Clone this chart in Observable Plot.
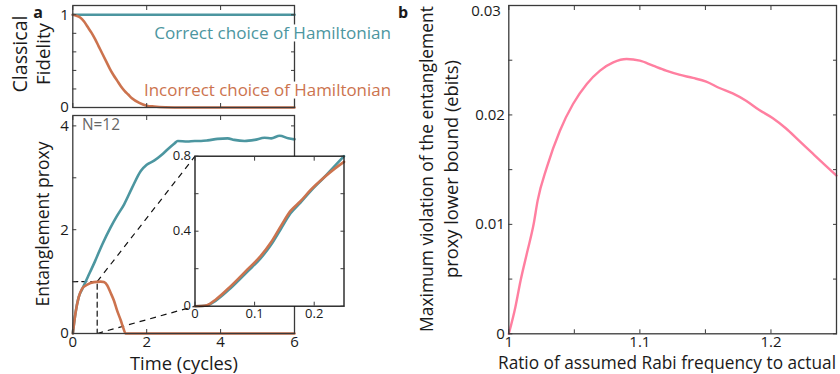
<!DOCTYPE html>
<html><head><meta charset="utf-8">
<script src="https://cdn.jsdelivr.net/npm/d3@7"></script>
<script src="https://cdn.jsdelivr.net/npm/@observablehq/plot@0.6"></script>
<style>
body{margin:0;background:#fff;}
#chart{position:relative;width:840px;height:374px;font-family:"Open Sans",sans-serif;overflow:hidden;background:#fff}
#chart svg{position:absolute;left:0;top:0}
.lbl{position:absolute;white-space:nowrap;transform:translate(-50%,-50%);color:#1a1a1a;line-height:1}
.rot{transform:translate(-50%,-50%) rotate(-90deg)}
</style></head><body><div id="chart"></div>
<script>
// ---------- data ----------
// Panel a (top): classical fidelity
const fidCorrectT = [0, 6];
const fidCorrect = [1, 1];
const fidIncorrectT = [0,0.1,0.2,0.3,0.4,0.5,0.6,0.7,0.8,0.9,1.0,1.1,1.2,1.3,1.4,1.5,1.6,1.8,2.0,2.2,2.5,3,4,5,6];
const fidIncorrect = [1,0.99,0.97,0.93,0.87,0.81,0.74,0.66,0.58,0.50,0.42,0.35,0.29,0.23,0.18,0.14,0.10,0.05,0.02,0.01,0.003,0,0,0,0];
// Panel a (bottom): entanglement proxy, N=12
const entCorrectT = [0,0.07,0.16,0.25,0.4,0.6,0.8,1.02,1.2,1.39,1.6,1.84,2.0,2.2,2.4,2.57,2.75,2.84,3.1,3.3,3.47,3.65,3.92,4.19,4.37,4.65,4.92,5.19,5.37,5.6,5.83,6.0];
const entCorrect = [0,0.38,0.70,0.85,1.08,1.39,1.72,2.04,2.27,2.49,2.80,3.13,3.25,3.33,3.44,3.55,3.66,3.71,3.70,3.71,3.71,3.72,3.75,3.76,3.73,3.71,3.73,3.77,3.76,3.81,3.76,3.74];
const entIncorrectT = [0,0.07,0.16,0.25,0.39,0.57,0.75,0.84,0.93,1.02,1.11,1.2,1.3,1.36,1.43,2,3,4,5,6];
const entIncorrect = [0,0.38,0.70,0.86,0.94,0.99,1.0,0.99,0.93,0.79,0.64,0.44,0.25,0.12,0,0,0,0,0,0];
// zoom box corner (time, proxy)
const zoomT = 0.66, zoomE = 1;
// inset
const insetT = [0,0.01,0.02,0.035,0.06,0.088,0.11,0.127,0.144,0.16,0.177,0.194,0.216,0.235,0.25];
const insetIncorrect = [0,0.001,0.005,0.036,0.107,0.196,0.267,0.338,0.427,0.507,0.56,0.62,0.685,0.735,0.77];
const insetCorrect = [0,0.001,0.004,0.03,0.097,0.185,0.255,0.325,0.412,0.494,0.553,0.614,0.685,0.75,0.80];
// Panel b
const ratio = [1,1.005,1.009,1.014,1.019,1.022,1.029,1.039,1.049,1.0595,1.0696,1.0797,1.0899,1.1,1.11,1.12,1.13,1.1405,1.1506,1.1607,1.1708,1.181,1.1911,1.2012,1.2113,1.2214,1.2316,1.2417,1.25];
const violation = [0,0.00243,0.00487,0.00745,0.01005,0.01217,0.01521,0.01856,0.0210,0.02283,0.02405,0.0248,0.02511,0.02496,0.0245,0.02405,0.02368,0.02338,0.02304,0.02246,0.02197,0.0213,0.02045,0.01972,0.01878,0.01765,0.0165,0.01537,0.01446];
// ticks
const aTimeTicks = [0,2,4,6], aTimeLabels = [0,2,4,6];
const fidTicks = [0,0.2,0.4,0.6,0.8,1], fidLabels = [0,1];
const entTicks = [0,1,2,3,4], entLabels = [0,2,4];
const inXTicks = [0,0.1,0.2], inXLabels = [0,0.1,0.2];
const inYTicks = [0,0.2,0.4,0.6,0.8], inYLabels = [0,0.4,0.8];
const bXTicks = [1,1.05,1.1,1.15,1.2], bXLabels = [1,1.1,1.2];
const bYTicks = [0,0.005,0.01,0.015,0.02,0.025,0.03], bYLabels = [0,0.01,0.02], bYTopLabel = [0.03];

const TEAL = "#4c96a0", ORANGE = "#cc734e", PINK = "#ff7fa0", FRAME = "#3a3a3a";
const W = 840, H = 374;
const zip = (xs, ys) => xs.map((x, i) => ({x, y: ys[i]}));

// layout boxes (pixels)
const boxTop = {l:72.3, r:294, t:5, b:107};
const boxEnt = {l:72.3, r:294, t:115, b:333};
const boxIn = {l:194.5, r:343.5, t:155.7, b:305.7};
const boxB = {l:508.3, r:836, t:5, b:333.3};

const fmt = (L) => (d) => L.includes(d) ? String(d) : "";
const none = () => "";
function axes(xT, xL, yT, yL, fs, showX = true) {
  const common = {tickSize:-4, label:null, stroke:FRAME, fill:"#1a1a1a", fontSize:fs};
  return [
    Plot.axisX({...common, anchor:"bottom", ticks:xT, tickPadding:7, tickFormat: showX ? fmt(xL) : none}),
    Plot.axisX({...common, anchor:"top", ticks:xT, tickFormat:none}),
    Plot.axisY({...common, anchor:"left", ticks:yT, tickPadding:8, tickFormat:fmt(yL)}),
    Plot.axisY({...common, anchor:"right", ticks:yT, tickFormat:none})
  ];
}
function panel(box, xd, yd, marks) {
  return Plot.plot({
    width: W, height: H,
    marginLeft: box.l, marginRight: W - box.r, marginTop: box.t, marginBottom: H - box.b,
    x: {domain: xd}, y: {domain: yd},
    style: {background: "transparent", overflow: "visible", fontFamily: '"Open Sans", sans-serif', color: "#1a1a1a"},
    marks
  });
}
const chart = document.getElementById("chart");

// Top panel a
chart.append(panel(boxTop, [0,6], [0,1.1], [
  Plot.line(zip(fidCorrectT, fidCorrect), {x:"x", y:"y", stroke:TEAL, strokeWidth:2.6}),
  Plot.line(zip(fidIncorrectT, fidIncorrect), {x:"x", y:"y", stroke:ORANGE, strokeWidth:2.6, curve:"monotone-x"}),
  Plot.frame({stroke:FRAME, strokeWidth:1.3}),
  ...axes(aTimeTicks, aTimeLabels, fidTicks, fidLabels, 15, false)
]));

// Bottom panel a
const sx = d3.scaleLinear([0,6], [boxEnt.l, boxEnt.r]);
const sy = d3.scaleLinear([0,4.2], [boxEnt.b, boxEnt.t]);
const connectors = [
  {x1: zoomT, y1: zoomE, x2: sx.invert(boxIn.l), y2: sy.invert(boxIn.t)},
  {x1: zoomT, y1: 0, x2: sx.invert(boxIn.l), y2: sy.invert(boxIn.b)}
];
chart.append(panel(boxEnt, [0,6], [0,4.2], [
  Plot.line([{x:0,y:zoomE},{x:zoomT,y:zoomE},{x:zoomT,y:0}], {x:"x", y:"y", stroke:"#111", strokeWidth:1.2, strokeDasharray:"5,4"}),
  Plot.link(connectors, {x1:"x1", y1:"y1", x2:"x2", y2:"y2", stroke:"#111", strokeWidth:1.2, strokeDasharray:"6,5"}),
  Plot.line(zip(entCorrectT, entCorrect), {x:"x", y:"y", stroke:TEAL, strokeWidth:2.6, curve:"monotone-x"}),
  Plot.line(zip(entIncorrectT, entIncorrect), {x:"x", y:"y", stroke:ORANGE, strokeWidth:2.6, curve:"monotone-x"}),
  Plot.frame({stroke:FRAME, strokeWidth:1.3}),
  ...axes(aTimeTicks, aTimeLabels, entTicks, entLabels, 15)
]));

// Inset
chart.append(panel(boxIn, [0,0.25], [0,0.8], [
  Plot.frame({fill:"white"}),
  Plot.line(zip(insetT, insetCorrect), {x:"x", y:"y", stroke:TEAL, strokeWidth:2.6, curve:"monotone-x"}),
  Plot.line(zip(insetT, insetIncorrect), {x:"x", y:"y", stroke:ORANGE, strokeWidth:2.6, curve:"monotone-x"}),
  Plot.frame({stroke:"#111", strokeWidth:1.3}),
  ...axes(inXTicks, inXLabels, inYTicks, inYLabels, 13)
]));

// Panel b
chart.append(panel(boxB, [1,1.25], [0,0.03], [
  Plot.line(zip(ratio, violation), {x:"x", y:"y", stroke:PINK, strokeWidth:2.4, curve:"monotone-x"}),
  Plot.frame({stroke:FRAME, strokeWidth:1.3}),
  ...axes(bXTicks, bXLabels, bYTicks, bYLabels, 15),
  Plot.axisY({anchor:"left", ticks:bYTopLabel, tickSize:0, tickPadding:8, label:null, fill:"#1a1a1a", fontSize:15, dy:6, tickFormat:fmt(bYTopLabel)})
]));

// Text labels (font size fitted to the width measured on the reference)
function label(text, x, y, opts = {}) {
  const d = document.createElement("div");
  d.className = "lbl" + (opts.rot ? " rot" : "");
  d.textContent = text;
  d.style.left = x + "px"; d.style.top = y + "px";
  const size = opts.size || 16;
  d.style.fontSize = size + "px";
  if (opts.color) d.style.color = opts.color;
  if (opts.bold) d.style.fontWeight = "bold";
  if (opts.bg) { d.style.background = "#fff"; }
  if (opts.anchor === "end") d.style.transform = "translate(-100%,-50%)";
  if (opts.anchor === "start") d.style.transform = "translate(0,-50%)";
  chart.append(d);
  if (opts.w) {
    const w = d.getBoundingClientRect()[opts.rot ? "height" : "width"];
    d.style.fontSize = (size * opts.w / w).toFixed(2) + "px";
  }
}
label("a", 38, 12, {bold:true, size:16});
label("b", 403, 12, {bold:true, size:16});
label("Classical", 20, 54, {rot:true, size:17, w:77});
label("Fidelity", 43, 54, {rot:true, size:17, w:62});
label("Correct choice of Hamiltonian", 391, 33, {anchor:"end", size:17, w:237, color:TEAL, bg:true});
label("Incorrect choice of Hamiltonian", 391, 90, {anchor:"end", size:17, w:247, color:ORANGE, bg:true});
label("N=12", 82, 125, {anchor:"start", size:14, w:38, color:"#666"});
label("Entanglement proxy", 43, 224, {rot:true, size:17.5, w:165});
label("Time (cycles)", 184, 363, {size:18, w:108});
label("Maximum violation of the entanglement", 427, 169, {rot:true, size:16, w:326});
label("proxy lower bound (ebits)", 451, 169, {rot:true, size:16, w:218});
label("Ratio of assumed Rabi frequency to actual", 667, 363, {size:17.4, w:338});
</script></body></html>
